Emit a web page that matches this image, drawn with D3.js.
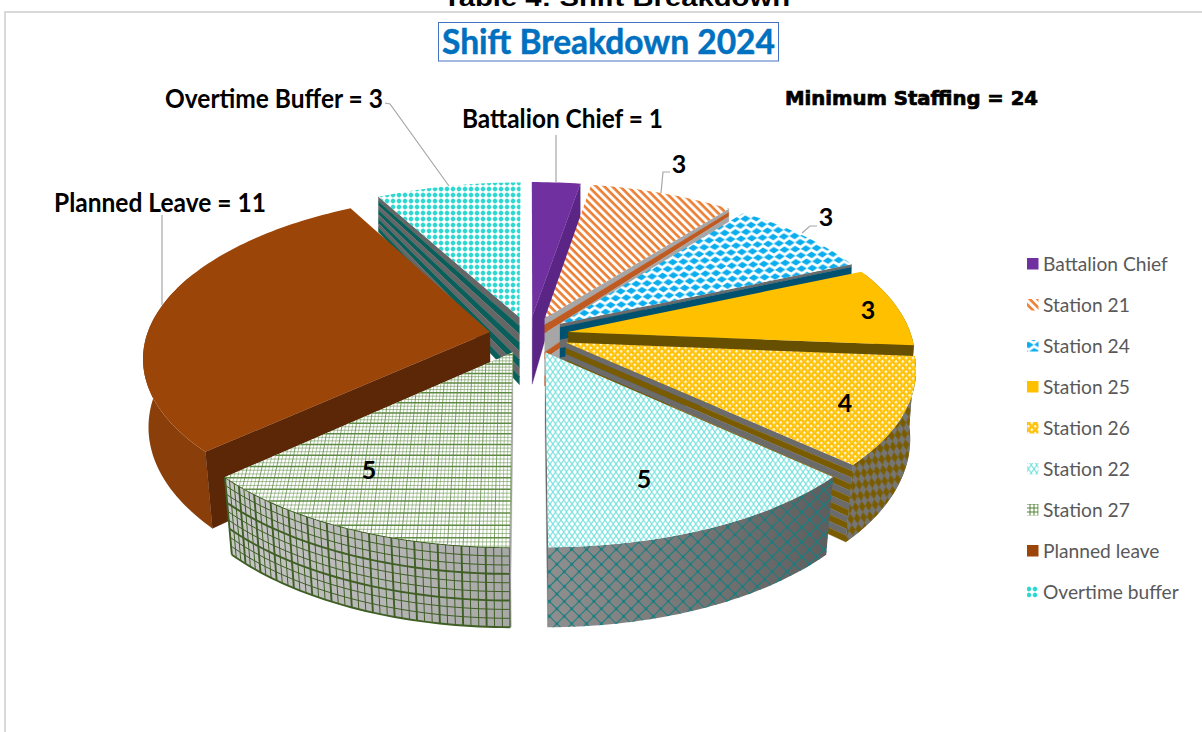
<!DOCTYPE html>
<html>
<head>
<meta charset="utf-8">
<script src="https://cdn.jsdelivr.net/npm/d3@7/dist/d3.min.js"></script>
<style>
  html, body { margin: 0; padding: 0; background: #fff; overflow: hidden; }
  svg { display: block; }
</style>
</head>
<body>
<svg id="chart" width="1202" height="732"></svg>
<script>
// Shift staffing, 2024
const categories = ["Battalion Chief", "Station 21", "Station 24", "Station 25", "Station 26",
                    "Station 22", "Station 27", "Planned leave", "Overtime buffer"];
const values = [1, 3, 3, 3, 4, 5, 5, 11, 3];
const fills = ["#7030A0", "url(#p21)", "url(#p24)", "#FFC000", "url(#p26)",
               "url(#p22)", "url(#p27)", "#9C4509", "url(#pOT)"];
const chartTitle = "Shift Breakdown 2024";
const pageHeading = "Table 4: Shift Breakdown";
const staffingNote = "Minimum Staffing = 24";

const svg = d3.select("#chart");
const defs = svg.append("defs");

// ---- Perspective model of the exploded pie -------------------------------
const cx = 529, cy = 335, radiusX = 343, radiusY = 160, perspective = 0.15, explode = 0.116;
// wall height on screen and inward lean of its foot, both by depth on the disc
const wallHeight = d3.scaleLinear().domain([-1.12, -0.88, -0.1, 0.7, 1.11]).range([34, 36, 68, 77, 80]);
const wallLean = d3.scaleLinear().domain([-1.12, -0.88, 0.7, 1.11]).range([1, 1, 0.978, 0.975]);

function project(u, w, t = 0) {
  const s = 1 / (1 - perspective * w);
  const x = radiusX * u * s, y = radiusY * w * s;
  const lean = 1 + t * (wallLean(w) - 1);
  return [cx + x * lean, cy + y + t * wallHeight(w)];
}
const line = d3.line();

// ---- Fill textures -------------------------------------------------------
function tile(id, w, h, rotate, draw) {
  const p = defs.append("pattern").attr("id", id).attr("patternUnits", "userSpaceOnUse")
    .attr("width", w).attr("height", h);
  if (rotate) p.attr("patternTransform", `rotate(${rotate})`);
  draw(p);
}
const rect = (p, x, y, w, h, c) => p.append("rect").attr("x", x).attr("y", y).attr("width", w).attr("height", h).attr("fill", c);

tile("p21", 5.6, 5.6, 45, p => { rect(p, 0, 0, 5.6, 5.6, "#fff"); rect(p, 0, 0, 5.6, 2.6, "#ED7D31"); });
tile("p24", 10.7, 13.2, -3, p => {
  rect(p, 0, 0, 10.7, 13.2, "#fff");
  [[0, 0], [10.7, 0], [0, 13.2], [10.7, 13.2], [5.35, 6.6]].forEach(([x, y]) =>
    p.append("path").attr("d", `M${x - 5.2},${y}L${x},${y - 3.4}L${x + 5.2},${y}L${x},${y + 3.4}Z`).attr("fill", "#0AADEE"));
});
tile("p26", 4.8, 4.8, 45, p => { rect(p, 0, 0, 4.8, 4.8, "#FFC000"); rect(p, 0, 0, 2.4, 2.4, "#FFF8E0"); rect(p, 2.4, 2.4, 1.2, 1.2, "#FFD766"); });
tile("p22", 5.5, 8, 0, p => {
  rect(p, 0, 0, 5.5, 8, "#fff");
  p.append("path").attr("d", "M0,0L2.75,4L5.5,0M0,8L2.75,4L5.5,8").attr("fill", "none").attr("stroke", "#74E2DE").attr("stroke-width", 1.15);
});
tile("pOT", 6, 6, 0, p => {
  rect(p, 0, 0, 6, 6, "#fff");
  rect(p, 2.4, 0, 1.2, 6, "#B8F0EC"); rect(p, 0, 2.4, 6, 1.2, "#B8F0EC");
  p.append("circle").attr("cx", 3).attr("cy", 3).attr("r", 2.2).attr("fill", "#2BD9D0");
});
tile("p27", 4, 4, 0, p => {
  rect(p, 0, 0, 4, 4, "#fff");
  rect(p, 0, 1.5, 4, 1, "#548235"); rect(p, 1.5, 0, 1, 4, "#548235");
});
tile("w26", 6.5, 11, -8, p => {
  rect(p, 0, 0, 6.5, 11, "#757575");
  p.append("path").attr("d", "M3.25,0L6.5,5.5L3.25,11L0,5.5Z").attr("fill", "#7A5C00");
});
tile("w22", 10.5, 10.5, 45, p => {
  p.append("path").attr("d", "M5.25,0V10.5M0,5.25H10.5").attr("stroke", "#167E80").attr("stroke-width", 1.1).attr("fill", "none");
  rect(p, 4, 4, 2.5, 2.5, "#167E80");
});
const grad = (id, stops) => {
  const g = defs.append("linearGradient").attr("id", id).attr("gradientUnits", "userSpaceOnUse")
    .attr("x1", stops[0][0]).attr("x2", stops[1][0]).attr("y1", 0).attr("y2", 0);
  stops.forEach(s => g.append("stop").attr("offset", (s[0] - stops[0][0]) / (stops[1][0] - stops[0][0])).attr("stop-color", s[1]));
};
grad("gw22", [[548, "#8F8F8F"], [830, "#5E5E5E"]]);
grad("gw27", [[232, "#C6C6C6"], [510, "#A8A8A8"]]);

// Striping of the flat cut faces, per category: [from, to, colour] down the wall
const stripes = (n, a, b) => d3.range(n).map(k => [k / n, (k + 1) / n, k % 2 ? b : a]);
const radialWalls = [
  [[0, 1, "#5A2585"]],
  [[0, .1, "#A6A6A6"], [.1, .22, "#BE5A22"], [.22, .5, "#A6A6A6"], [.5, .6, "#BE5A22"], [.6, .85, "#A6A6A6"], [.85, 1, "#BE5A22"]],
  [[0, .05, "#6B6B6B"], [.05, .24, "#00506F"], [.24, .36, "#6B6B6B"], [.36, .5, "#00506F"], [.5, .66, "#6B6B6B"], [.66, .84, "#00506F"], [.84, 1, "#6B6B6B"]],
  [[0, 1, "#665000"]],
  stripes(12, "#6B6B6B", "#7A5C00"),
  [[0, 1, "#6E6E6E"]],
  [[0, 1, "#A0A0A0"]],
  [[0, 1, "#5C2706"]],
  stripes(8, "#666666", "#0B5F5A")
];
const outerWalls = ["#5A2585", "#A6A6A6", "#00506F", "#665000", "#757575", "url(#gw22)", "url(#gw27)", "#8A3F0A", "#666666"];

// ---- Frame, headings -----------------------------------------------------
svg.append("path").attr("d", "M5,732V12H1202").attr("fill", "none").attr("stroke", "#D9D9D9").attr("stroke-width", 2);

svg.append("text").attr("x", 443).attr("y", 5.5).attr("textLength", 347).attr("lengthAdjust", "spacingAndGlyphs")
  .attr("font-family", "Liberation Sans").attr("font-weight", 700).attr("font-size", 23).attr("fill", "#000").text(pageHeading);

svg.append("rect").attr("x", 438.5).attr("y", 22.5).attr("width", 340).attr("height", 38.5)
  .attr("fill", "#fff").attr("stroke", "#4472C4").attr("stroke-width", 1);
svg.append("text").attr("x", 442).attr("y", 54).attr("textLength", 333).attr("lengthAdjust", "spacingAndGlyphs")
  .attr("font-family", "Lato").attr("font-weight", 700).attr("font-size", 35)
  .attr("stroke", "#0070C0").attr("stroke-width", 0.5).attr("fill", "#0070C0").text(chartTitle);

// ---- Wedges --------------------------------------------------------------
const arcs = d3.pie().sort(null).value(d => d)(values);
const wedges = arcs.map((a, i) => {
  const mid = (a.startAngle + a.endAngle) / 2;
  const u0 = explode * Math.sin(mid), w0 = -explode * Math.cos(mid);
  const steps = Math.max(6, Math.ceil((a.endAngle - a.startAngle) / 0.02));
  const angles = d3.range(steps + 1).map(k => a.startAngle + (a.endAngle - a.startAngle) * k / steps);
  const rim = angles.map(t => [u0 + Math.sin(t), w0 - Math.cos(t)]);
  // only the part of the rim on the near side shows a wall
  const frontRim = angles.filter(t => -Math.cos(t) > -0.4).map(t => [u0 + Math.sin(t), w0 - Math.cos(t)]);
  return { i, mid, u0, w0, rim, frontRim, a };
}).sort((p, q) => Math.cos(q.mid) - Math.cos(p.mid));   // far wedges first

const gPie = svg.append("g");

function cutFace(g, d, uv) {
  radialWalls[d.i].forEach(([t0, t1, colour]) => {
    g.append("path").attr("d", line([
      project(d.u0, d.w0, t0), project(uv[0], uv[1], t0),
      project(uv[0], uv[1], t1), project(d.u0, d.w0, t1)]) + "Z")
      .attr("fill", colour).attr("stroke", colour).attr("stroke-width", 0.3);
  });
}

wedges.forEach(d => {
  const g = gPie.append("g").attr("class", "wedge").attr("data-name", categories[d.i]);

  // outer curved wall
  if (d.frontRim.length > 1) {
    const wall = d.frontRim.map(p => project(p[0], p[1], 0)).concat(d.frontRim.slice().reverse().map(p => project(p[0], p[1], 1)));
    g.append("path").attr("d", line(wall) + "Z").attr("fill", outerWalls[d.i]);
    if (d.i === 4) g.append("path").attr("d", line(wall) + "Z").attr("fill", "url(#w26)");
    if (d.i === 5) g.append("path").attr("d", line(wall) + "Z").attr("fill", "url(#w22)");
    if (d.i === 6) {
      // mesh that follows the curve of the wall
      const arcLine = t => line(d.frontRim.map(p => project(p[0], p[1], t)));
      d3.range(0, 1.01, 1 / 9).forEach((t, k) =>
        g.append("path").attr("d", arcLine(t)).attr("fill", "none").attr("stroke", "#3F5F24").attr("stroke-width", k % 3 === 0 ? 1.9 : 1));
      d.frontRim.forEach((p, k) => {
        g.append("path").attr("d", line([project(p[0], p[1], 0), project(p[0], p[1], 1)]))
          .attr("stroke", "#3F5F24").attr("stroke-width", k % 3 === 0 ? 1.9 : 1);
      });
    }
  }

  // the cut face turned towards the viewer
  cutFace(g, d, d.mid < Math.PI ? d.rim[d.rim.length - 1] : d.rim[0]);

  // top face
  const top = [[d.u0, d.w0]].concat(d.rim).map(p => project(p[0], p[1], 0));
  g.append("path").attr("d", line(top) + "Z").attr("fill", fills[d.i]);

  if (d.i === 6) {
    // fine mesh drawn on the disc so it narrows with distance
    const clipId = "clip27";
    defs.append("clipPath").attr("id", clipId).append("path").attr("d", line(top) + "Z");
    const mesh = g.append("g").attr("clip-path", `url(#${clipId})`);
    mesh.append("path").attr("d", line(top) + "Z").attr("fill", "#fff");
    d3.range(0, 1.2, 0.0095).forEach((du, k) => {
      const u = d.u0 - du;
      mesh.append("path").attr("d", line([project(u, -0.1), project(u, 1.2)]))
        .attr("stroke", "#5F8A44").attr("stroke-width", k % 4 === 0 ? 1 : 0.6).attr("stroke-opacity", 0.8);
    });
    d3.range(0, 1.2, 0.0185).forEach((dw, k) => {
      const w = 1.12 - dw;
      mesh.append("path").attr("d", line([project(-1.2, w), project(0.1, w)]))
        .attr("stroke", "#5F8A44").attr("stroke-width", k % 3 === 0 ? 1.5 : 0.7).attr("stroke-opacity", k % 3 === 0 ? 1 : 0.8);
    });
  }
});

// ---- Leader lines --------------------------------------------------------
const leaders = [
  [[556, 135], [556, 182]],
  [[670, 172], [663, 172], [661, 193]],
  [[817, 226], [810, 226], [802, 233]],
  [[385, 103], [390, 104], [449, 186]],
  [[162, 215], [162, 305]]
];
svg.append("g").selectAll("path").data(leaders).join("path")
  .attr("d", d => line(d)).attr("fill", "none").attr("stroke", "#A6A6A6").attr("stroke-width", 1.2);

// ---- Labels --------------------------------------------------------------
const bold = "Lato";
const callouts = [
  { text: `Overtime Buffer = ${values[8]}`, x: 165, y: 108, len: 218 },
  { text: `Battalion Chief = ${values[0]}`, x: 462, y: 128, len: 201 },
  { text: `Planned Leave = ${values[7]}`, x: 54, y: 212, len: 212 }
];
svg.append("g").selectAll("text").data(callouts).join("text")
  .attr("x", d => d.x).attr("y", d => d.y).attr("textLength", d => d.len).attr("lengthAdjust", "spacingAndGlyphs")
  .attr("font-family", bold).attr("font-weight", 700).attr("font-size", 26).attr("fill", "#000").text(d => d.text);

const sliceLabels = [
  { i: 1, x: 679, y: 173 }, { i: 2, x: 826, y: 226 }, { i: 3, x: 868, y: 319 },
  { i: 4, x: 845, y: 412 }, { i: 5, x: 644, y: 488 }, { i: 6, x: 369, y: 479 }
];
svg.append("g").selectAll("text").data(sliceLabels).join("text")
  .attr("x", d => d.x).attr("y", d => d.y).attr("text-anchor", "middle")
  .attr("font-family", bold).attr("font-weight", 700).attr("font-size", 25).attr("fill", "#000").text(d => values[d.i]);

svg.append("text").attr("x", 785).attr("y", 105).attr("textLength", 253).attr("lengthAdjust", "spacingAndGlyphs")
  .attr("font-family", "DejaVu Sans").attr("font-weight", 700).attr("font-size", 19)
  .attr("stroke", "#000").attr("stroke-width", 0.7).attr("fill", "#000").text(staffingNote);

// ---- Legend --------------------------------------------------------------
const legendY = d3.scalePoint().domain(categories).range([264, 592]);
const legend = svg.append("g").selectAll("g").data(categories).join("g")
  .attr("transform", d => `translate(0,${legendY(d)})`);
legend.append("rect").attr("x", 1027).attr("y", -6).attr("width", 11.5).attr("height", 11.5)
  .attr("fill", (d, i) => fills[i]);
legend.append("text").attr("x", 1043).attr("y", 6.5)
  .attr("font-family", "Lato").attr("font-size", 19.2).attr("fill", "#595959").text(d => d);
</script>
</body>
</html>
